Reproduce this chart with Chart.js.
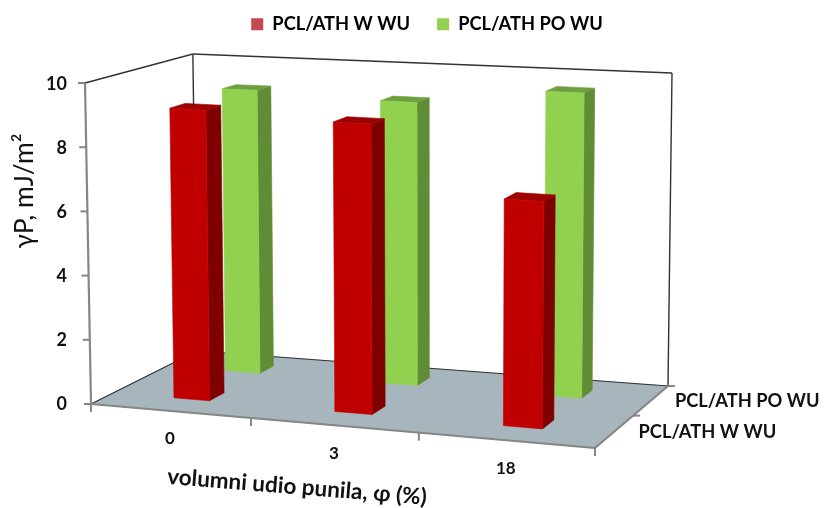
<!DOCTYPE html>
<html>
<head>
<meta charset="utf-8">
<style>
  html, body { margin: 0; padding: 0; background: #fff; }
  #wrap { width: 824px; height: 508px; }
</style>
<script src="https://cdn.jsdelivr.net/npm/chart.js@4"></script>
</head>
<body>
<div id="wrap"><canvas id="myChart" width="824" height="508"></canvas></div>
<script>
// data
const categories = ['0', '3', '18'];
const seriesNames = ['PCL/ATH W WU', 'PCL/ATH PO WU'];
const wWu = [9.1, 8.95, 6.9];
const poWu = [9.2, 9.05, 9.6];
const yTicks = [0, 2, 4, 6, 8, 10];
const yTitle = 'γP, mJ/m²';
const xTitle = 'volumni udio punila, φ (%)';

const FONT = 'Lato, "Open Sans", sans-serif';
const INK = '#111111';

// floor corners of the 3D box (front-left, front-right, back-right, back-left)
const FL = [91, 404], FR = [595, 448], BR = [668, 386], BL = [197, 351];
// wall height in px at the same corners
const wallH = [321, 336, 313, 297];

// row position along the depth axis, and colours per dataset
const rows = [
    { v0: 0.20, v1: 0.34, front: '#c00000', side: '#7f0000', top: '#9c0000', swatch: '#c24a50' },
    { v0: 0.70, v1: 0.84, front: '#92d050', side: '#5f8c34', top: '#6f9f3f', swatch: '#92d050' }
];

// homography from unit square to the floor
const dx1 = FR[0] - BR[0], dx2 = BL[0] - BR[0], sx = FL[0] - FR[0] + BR[0] - BL[0];
const dy1 = FR[1] - BR[1], dy2 = BL[1] - BR[1], sy = FL[1] - FR[1] + BR[1] - BL[1];
const den = dx1 * dy2 - dx2 * dy1;
const g = (sx * dy2 - dx2 * sy) / den;
const h = (dx1 * sy - sx * dy1) / den;
const a = FR[0] - FL[0] + g * FR[0], b = BL[0] - FL[0] + h * BL[0];
const d = FR[1] - FL[1] + g * FR[1], e = BL[1] - FL[1] + h * BL[1];

// u: 0..1 along categories, v: 0..1 along depth, val: y axis value
function project(u0, v, val) {
    const u = u0 + 0.03 * u0 * (1 - u0); // the picture is a bit less warped than the pure homography
    const w = g * u + h * v + 1;
    const x = (a * u + b * v + FL[0]) / w;
    const y = (d * u + e * v + FL[1]) / w;
    const H = wallH[0] * (1 - u) * (1 - v) + wallH[1] * u * (1 - v) + wallH[2] * u * v + wallH[3] * (1 - u) * v;
    const t = val / 10;
    return [x + (x - 437) * 0.0173 * t, y - H * t];
}

function poly(ctx, pts, fill) {
    ctx.beginPath();
    pts.forEach((p, i) => i ? ctx.lineTo(p[0], p[1]) : ctx.moveTo(p[0], p[1]));
    ctx.closePath();
    ctx.fillStyle = fill;
    ctx.strokeStyle = fill;
    ctx.lineWidth = 0.6;
    ctx.fill();
    ctx.stroke();
}

function line(ctx, p, q, color, width) {
    ctx.beginPath();
    ctx.moveTo(p[0], p[1]);
    ctx.lineTo(q[0], q[1]);
    ctx.strokeStyle = color;
    ctx.lineWidth = width;
    ctx.stroke();
}

function text(ctx, str, x, y, font, align, angle) {
    ctx.save();
    ctx.translate(x, y);
    ctx.rotate(angle || 0);
    ctx.font = font;
    ctx.fillStyle = INK;
    ctx.textAlign = align;
    ctx.textBaseline = 'middle';
    ctx.fillText(str, 0, 0);
    ctx.restore();
}

// walls, floor, axis lines and the texts that follow the perspective
const boxPlugin = {
    id: 'box3d',
    afterLayout(chart) {
        // legend sits higher than the layout puts it and is not centred on the plot
        const lg = chart.legend;
        const w = lg.right - lg.left;
        lg.left = 427 - w / 2;
        lg.right = 427 + w / 2;
        lg.top = -12;
        lg.bottom = lg.top + lg.height;
    },
    beforeDatasetsDraw(chart) {
        const ctx = chart.ctx;
        const xs = chart.scales.x;
        ctx.save();
        poly(ctx, [project(0, 0, 0), project(1, 0, 0), project(1, 1, 0), project(0, 1, 0)], '#a7b6bd');

        // back walls
        const dark = '#333333';
        line(ctx, project(0, 0, 10), project(0, 1, 10), dark, 1.4);
        line(ctx, project(0, 1, 10), project(1, 1, 10), dark, 1.4);
        line(ctx, project(1, 1, 10), project(1, 1, 0), dark, 1.4);
        line(ctx, project(0, 1, 10), project(0, 1, 0), dark, 1.4);
        line(ctx, project(0, 1, 0), project(1, 1, 0), dark, 1.2);
        line(ctx, project(0, 0, 0), project(0, 1, 0), dark, 1.2);

        // axis lines
        const grey = '#868686';
        line(ctx, project(0, 0, 0), project(0, 0, 10), grey, 2.2);
        line(ctx, project(0, 0, 0), project(1, 0, 0), grey, 2.2);
        line(ctx, project(1, 0, 0), project(1, 1, 0), grey, 2.2);
        yTicks.forEach(v => {
            const p = project(0, 0, v);
            line(ctx, [p[0] - 7, p[1]], p, grey, 2);
        });
        for (let i = 0; i <= categories.length; i++) {
            const p = project(i / categories.length, 0, 0);
            line(ctx, p, [p[0], p[1] + 8], grey, 2);
        }
        [0.5, 1].forEach(v => {
            const p = project(1, v, 0);
            line(ctx, p, [p[0] + 7, p[1]], grey, 2);
        });

        // category labels under the front edge
        categories.forEach((c, i) => {
            const u = (xs.getPixelForTick(i) - xs.left) / (xs.right - xs.left);
            const p = project(u, 0, 0);
            text(ctx, c, p[0], p[1] + 28, 'bold 17px ' + FONT, 'center');
        });

        // series labels beside the depth edge
        seriesNames.forEach((s, i) => {
            const p = project(1, i * 0.5 + 0.25, 0);
            text(ctx, s, p[0] + 24, p[1] + 0.5, 'bold 18.3px ' + FONT, 'left');
        });

        text(ctx, xTitle, 297, 487, 'bold 22.5px ' + FONT, 'center', 0.08);
        text(ctx, yTitle, 24, 191, '26.5px ' + FONT, 'center', -Math.PI / 2);
        ctx.restore();
    },
    // the library hands over each bar, it gets drawn here as a box
    beforeDatasetDraw(chart, args) {
        const ctx = chart.ctx;
        const xs = chart.scales.x;
        const ys = chart.scales.y;
        const row = rows[args.index];
        ctx.save();
        args.meta.data.forEach(bar => {
            const u0 = (bar.x - bar.width / 2 - xs.left) / (xs.right - xs.left);
            const u1 = (bar.x + bar.width / 2 - xs.left) / (xs.right - xs.left);
            const val = ys.getValueForPixel(bar.y);
            poly(ctx, [project(u1, row.v0, 0), project(u1, row.v1, 0), project(u1, row.v1, val), project(u1, row.v0, val)], row.side);
            poly(ctx, [project(u0, row.v0, val), project(u1, row.v0, val), project(u1, row.v1, val), project(u0, row.v1, val)], row.top);
            poly(ctx, [project(u0, row.v0, 0), project(u1, row.v0, 0), project(u1, row.v0, val), project(u0, row.v0, val)], row.front);
        });
        ctx.restore();
        return false;
    }
};

new Chart(document.getElementById('myChart').getContext('2d'), {
    type: 'bar',
    data: {
        labels: categories,
        datasets: [
            { label: seriesNames[0], data: wWu, backgroundColor: rows[0].front },
            { label: seriesNames[1], data: poWu, backgroundColor: rows[1].front }
        ]
    },
    options: {
        responsive: false,
        animation: false,
        grouped: false,
        categoryPercentage: 1,
        barPercentage: 0.225,
        layout: { padding: { top: 28.7, right: 229, bottom: 104, left: 0 } },
        plugins: {
            tooltip: { enabled: false },
            legend: {
                position: 'top',
                labels: {
                    boxWidth: 12,
                    boxHeight: 12,
                    padding: 27,
                    color: INK,
                    font: { family: FONT, size: 18.3, weight: 'bold' },
                    generateLabels: () => seriesNames.map((s, i) => ({
                        text: s,
                        fillStyle: rows[i].swatch,
                        strokeStyle: rows[i].swatch,
                        lineWidth: 0,
                        datasetIndex: i
                    }))
                }
            }
        },
        scales: {
            x: {
                afterFit(scale) { scale.height = 0; },
                ticks: { display: false },
                grid: { display: false },
                border: { display: false }
            },
            y: {
                min: 0,
                max: 10,
                afterFit(scale) { scale.width = 91; },
                afterBuildTicks(scale) { scale.ticks = yTicks.map(v => ({ value: v })); },
                ticks: {
                    padding: 16,
                    color: INK,
                    font: { family: FONT, size: 18, weight: 'bold' }
                },
                grid: { display: false },
                border: { display: false }
            }
        }
    },
    plugins: [boxPlugin]
});
</script>
</body>
</html>
